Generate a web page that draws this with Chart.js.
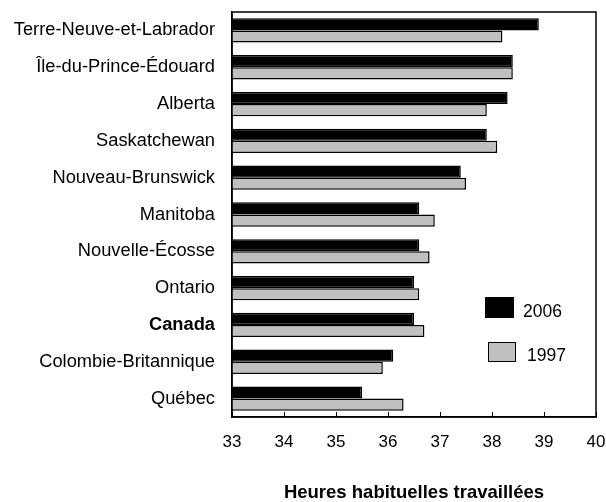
<!DOCTYPE html>
<html>
<head>
<meta charset="utf-8">
<script src="https://cdn.jsdelivr.net/npm/chart.js@4.4.0/dist/chart.umd.min.js"></script>
<style>
  body { margin: 0; background: #fff; font-family: "Liberation Sans", Arial, sans-serif; }
  #wrap { position: relative; width: 606px; height: 502px; }
  canvas { display: block; }
  .leg { position: absolute; font-size: 17.5px; line-height: 1; color: #000; }
  .box { position: absolute; box-sizing: border-box; border: 1.5px solid #000; }
</style>
</head>
<body>
<div id="wrap">
  <canvas id="chart" width="606" height="502"></canvas>
  <div class="box" style="left:485px; top:297px; width:29px; height:21px; background:#000;"></div>
  <div class="leg" style="left:523px; top:303px;">2006</div>
  <div class="box" style="left:488px; top:342px; width:28px; height:20px; background:#c0c0c0;"></div>
  <div class="leg" style="left:527px; top:347px;">1997</div>
</div>
<script>
  const provinces = [
    "Terre-Neuve-et-Labrador",
    "Île-du-Prince-Édouard",
    "Alberta",
    "Saskatchewan",
    "Nouveau-Brunswick",
    "Manitoba",
    "Nouvelle-Écosse",
    "Ontario",
    "Canada",
    "Colombie-Britannique",
    "Québec",
  ];
  const heures2006 = [38.9, 38.4, 38.3, 37.9, 37.4, 36.6, 36.6, 36.5, 36.5, 36.1, 35.5];
  const heures1997 = [38.2, 38.4, 37.9, 38.1, 37.5, 36.9, 36.8, 36.6, 36.7, 35.9, 36.3];
  const xTicks = [33, 34, 35, 36, 37, 38, 39, 40];

  const fontFamily = "'Liberation Sans', Arial, sans-serif";

  // pas de marge automatique autour des étiquettes
  function noPadding(s) {
    s.paddingTop = 0;
    s.paddingBottom = 0;
    s.paddingLeft = 0;
    s.paddingRight = 0;
  }

  // cadre autour du graphique + petites graduations vers l'intérieur
  const framePlugin = {
    id: "frame",
    afterDraw(chart) {
      const { ctx, chartArea: a } = chart;
      const xs = chart.scales.x;
      ctx.save();
      ctx.strokeStyle = "#000";
      ctx.lineWidth = 1.5;
      ctx.strokeRect(a.left, a.top, a.right - a.left, a.bottom - a.top);
      ctx.lineWidth = 1;
      xTicks.forEach((v) => {
        const px = Math.round(xs.getPixelForValue(v)) + 0.5;
        ctx.beginPath();
        ctx.moveTo(px, a.bottom);
        ctx.lineTo(px, a.bottom - 5);
        ctx.stroke();
      });
      ctx.restore();
    },
  };

  const ctx = document.getElementById("chart").getContext("2d");
  new Chart(ctx, {
    type: "bar",
    data: {
      labels: provinces,
      datasets: [
        {
          label: "2006",
          data: heures2006,
          backgroundColor: "#000000",
          borderColor: "#000000",
          borderWidth: 1.5,
          barPercentage: 1.0,
          categoryPercentage: 0.66,
        },
        {
          label: "1997",
          data: heures1997,
          backgroundColor: "#c0c0c0",
          borderColor: "#000000",
          borderWidth: 1.5,
          barPercentage: 1.0,
          categoryPercentage: 0.66,
        },
      ],
    },
    options: {
      indexAxis: "y",
      responsive: false,
      animation: false,
      layout: { padding: { top: 12, right: 10, left: 0, bottom: 0 } },
      plugins: { legend: { display: false }, tooltip: { enabled: false } },
      scales: {
        x: {
          min: 33,
          max: 40,
          afterBuildTicks: (s) => { s.ticks = xTicks.map((v) => ({ value: v })); },
          afterFit: (s) => { s.height = 85; noPadding(s); },
          grid: { drawOnChartArea: false, drawTicks: false },
          border: { color: "#000", width: 1.5 },
          ticks: {
            padding: 15,
            maxRotation: 0,
            color: "#000",
            font: { family: fontFamily, size: 17 },
          },
          title: {
            display: true,
            text: "Heures habituelles travaillées",
            color: "#000",
            padding: 0,
            font: { family: fontFamily, size: 18.5, weight: "bold", lineHeight: 1 },
          },
        },
        y: {
          afterFit: (s) => { s.width = 232; noPadding(s); },
          grid: { display: false, drawTicks: false },
          border: { color: "#000", width: 1.5 },
          ticks: {
            padding: 17,
            color: "#000",
            font: (c) => ({
              family: fontFamily,
              size: 18.3,
              weight: provinces[c.index] === "Canada" ? "bold" : "normal",
            }),
          },
        },
      },
    },
    plugins: [framePlugin],
  });
</script>
</body>
</html>
